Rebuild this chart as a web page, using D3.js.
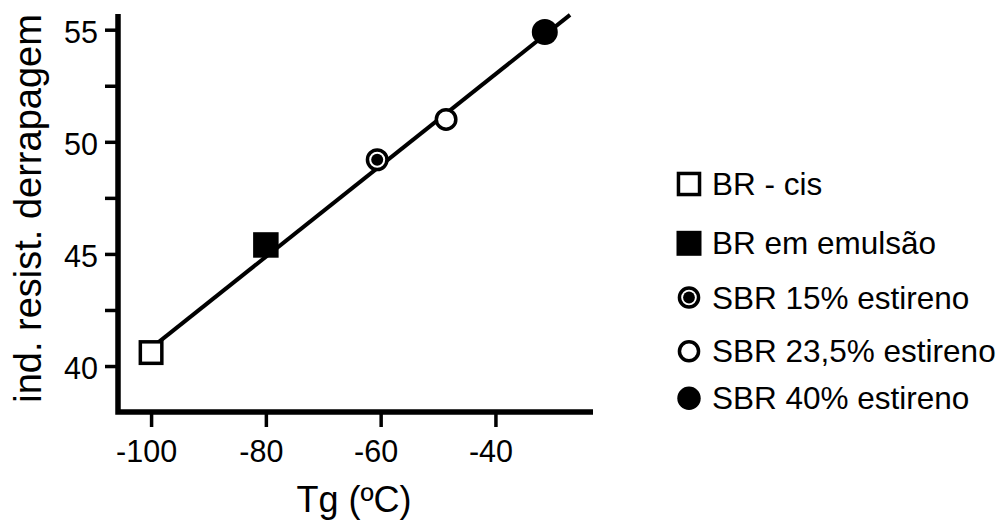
<!DOCTYPE html>
<html>
<head>
<meta charset="utf-8">
<script src="https://cdn.jsdelivr.net/npm/d3@7"></script>
<style>
  html, body { margin: 0; padding: 0; background: #fff; }
  svg { display: block; }
  text { font-family: "Liberation Sans", Arial, sans-serif; fill: #000; }
</style>
</head>
<body>
<svg id="chart" width="1000" height="522"></svg>
<script>
// ---- data ----
const categories = ["BR - cis", "BR em emulsão", "SBR 15% estireno", "SBR 23,5% estireno", "SBR 40% estireno"];
const tgValues = [-100, -80, -60.6, -48.6, -31.4];
const skidValues = [40.6, 45.4, 49.2, 51.0, 54.9];
const markerTypes = ["squareOpen", "squareFilled", "circleDot", "circleOpen", "circleFilled"];
const fitTg = [-100, -27.0];
const fitSkid = [40.8, 55.66];
const xTickValues = [-100, -80, -60, -40];
const yTickMajor = [40, 45, 50, 55];
const yTickMinor = [42.5, 47.5, 52.5];
const xTitle = "Tg (ºC)";
const yTitle = "ind. resist. derrapagem";

// ---- layout ----
const svg = d3.select("#chart");
svg.append("rect").attr("width", 1000).attr("height", 522).attr("fill", "#fff");

const axisX0 = 118, axisY0 = 412, plotRight = 593, plotTop = 14;
const x = d3.scaleLinear().domain([-106.2, -23]).range([115.5, plotRight]);
const y = d3.scaleLinear().domain([37.95, 55.7]).range([axisY0, plotTop]);

// y axis ticks
const yAxis = d3.axisLeft(y)
  .tickValues(yTickMajor.concat(yTickMinor).sort((a, b) => a - b))
  .tickFormat(d => yTickMajor.includes(d) ? String(d) : "")
  .tickSize(13).tickPadding(7);
const gy = svg.append("g").attr("transform", `translate(${axisX0},0)`).call(yAxis);
gy.select(".domain").remove();
gy.selectAll(".tick line").attr("stroke", "#000").attr("stroke-width", 3.5);
gy.selectAll(".tick text").attr("font-size", 30.5).attr("dy", "0.42em")
  .attr("font-family", "'Liberation Sans', Arial, sans-serif").attr("fill", "#000");

// x axis ticks
const xAxis = d3.axisBottom(x).tickValues(xTickValues).tickFormat(d => String(d))
  .tickSize(15).tickPadding(13);
const gx = svg.append("g").attr("transform", `translate(0,${axisY0})`).call(xAxis);
gx.select(".domain").remove();
gx.selectAll(".tick line").attr("stroke", "#000").attr("stroke-width", 3.5);
gx.selectAll(".tick text").attr("font-size", 30.5).attr("dx", "-5")
  .attr("font-family", "'Liberation Sans', Arial, sans-serif").attr("fill", "#000");

// axis lines
svg.append("path")
  .attr("d", `M${axisX0},${plotTop} V${axisY0} H${plotRight}`)
  .attr("fill", "none").attr("stroke", "#000").attr("stroke-width", 5.5)
  .attr("stroke-linejoin", "miter");

// titles
svg.append("text").attr("x", 354).attr("y", 511.5).attr("text-anchor", "middle")
  .attr("font-size", 36).text(xTitle);
svg.append("text").attr("transform", "translate(41,208.5) rotate(-90)")
  .attr("text-anchor", "middle").attr("font-size", 38).text(yTitle);

// fit line
const line = d3.line().x(d => x(d[0])).y(d => y(d[1]));
svg.append("path").datum(fitTg.map((t, i) => [t, fitSkid[i]]))
  .attr("d", line).attr("fill", "none").attr("stroke", "#000").attr("stroke-width", 4);

// marker drawing
function drawMarker(g, type, cx, cy, k) {
  if (type === "squareOpen") {
    const s = 21.5 * k;
    g.append("rect").attr("x", cx - s / 2).attr("y", cy - s / 2).attr("width", s).attr("height", s)
      .attr("fill", "#fff").attr("stroke", "#000").attr("stroke-width", 3.5);
  } else if (type === "squareFilled") {
    const s = 25.5 * k;
    g.append("rect").attr("x", cx - s / 2).attr("y", cy - s / 2).attr("width", s).attr("height", s)
      .attr("fill", "#000");
  } else if (type === "circleDot") {
    g.append("circle").attr("cx", cx).attr("cy", cy).attr("r", 9.75 * k)
      .attr("fill", "#fff").attr("stroke", "#000").attr("stroke-width", 3.5);
    g.append("circle").attr("cx", cx).attr("cy", cy).attr("r", 6 * k).attr("fill", "#000");
  } else if (type === "circleOpen") {
    g.append("circle").attr("cx", cx).attr("cy", cy).attr("r", 9.75 * k)
      .attr("fill", "#fff").attr("stroke", "#000").attr("stroke-width", 3.5);
  } else if (type === "circleFilled") {
    g.append("circle").attr("cx", cx).attr("cy", cy).attr("r", 13 * k).attr("fill", "#000");
  }
}

const gm = svg.append("g");
categories.forEach((c, i) => {
  drawMarker(gm, markerTypes[i], x(tgValues[i]), y(skidValues[i]), 1);
});

// legend
const legendRowY = [184, 243.3, 297.5, 351.2, 398.3];
const gl = svg.append("g");
categories.forEach((c, i) => {
  drawMarker(gl, markerTypes[i], 689, legendRowY[i], i === 4 ? 0.9 : 0.98);
  gl.append("text").attr("x", 712).attr("y", legendRowY[i] + 11)
    .attr("font-size", 31.5).text(c);
});
</script>
</body>
</html>
